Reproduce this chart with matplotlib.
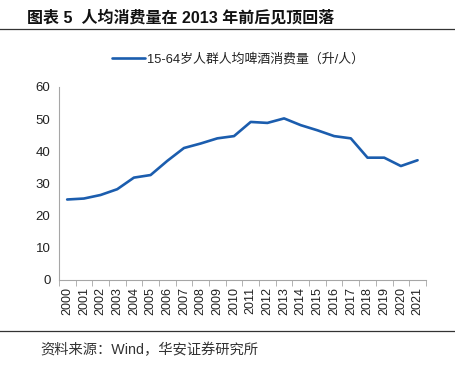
import matplotlib
matplotlib.use("Agg")
import matplotlib.pyplot as plt
import numpy as np

years = [str(y) for y in range(2000, 2022)]
consumption = [25.0, 25.3, 26.4, 28.2, 31.8, 32.6, 37.0, 41.0, 42.4, 44.0, 44.7,
               49.1, 48.8, 50.2, 48.1, 46.5, 44.7, 44.0, 38.0, 38.0, 35.4, 37.2]
series_name = "15-64岁人群人均啤酒消费量（升/人）"
title = "图表 5  人均消费量在 2013 年前后见顶回落"
source = "资料来源：Wind，华安证券研究所"

plt.rcParams["font.family"] = ["Liberation Sans", "Noto Sans CJK SC", "DejaVu Sans"]

fig = plt.figure(figsize=(4.56, 3.65), dpi=100)
ax = fig.add_axes([0.129, 0.233, 0.805, 0.529])

x = np.arange(len(years))
ax.plot(x, consumption, color="#1B5DAE", linewidth=1.9,
        solid_joinstyle="round", solid_capstyle="round", label=series_name)

ax.set_xlim(-0.5, len(years) - 0.5)
ax.set_ylim(0, 60)
ax.set_yticks(range(0, 61, 10))
ax.set_xticks(x)
ax.set_xticklabels(years, rotation=90)
ax.set_xticks(np.arange(-0.5, len(years), 1.0), minor=True)
ax.tick_params(axis="x", which="major", length=0, pad=5, labelsize=9, colors="#222222")
ax.tick_params(axis="x", which="minor", length=4, color="#A6A6A6")
ax.tick_params(axis="y", length=0, pad=6, labelsize=9.5, colors="#222222")

for s in ["top", "right"]:
    ax.spines[s].set_visible(False)
for s in ["left", "bottom"]:
    ax.spines[s].set_color("#A6A6A6")
    ax.spines[s].set_linewidth(0.8)

leg = fig.legend(loc="center", bbox_to_anchor=(0.522, 0.838), frameon=False,
                 fontsize=9.3, handlelength=2.5, handletextpad=0.15)
for t in leg.get_texts():
    t.set_color("#222222")

fig.text(0.059, 0.953, title, fontsize=11.5, fontweight="bold", va="center",
         color="#111111")
fig.add_artist(plt.Line2D([0, 0.995], [0.921, 0.921], color="#333333", linewidth=0.9))
fig.add_artist(plt.Line2D([0, 0.995], [0.093, 0.093], color="#333333", linewidth=0.9))
fig.text(0.088, 0.041, source, fontsize=10.3, va="center", color="#333333")

fig.savefig("out.png", dpi=100)
